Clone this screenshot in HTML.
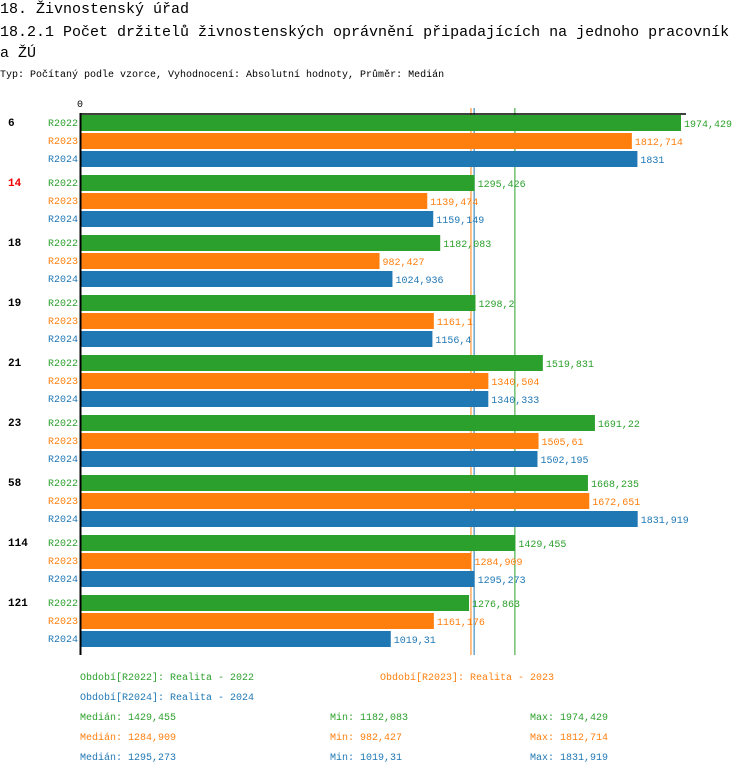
<!DOCTYPE html>
<html><head><meta charset="utf-8"><style>
body{margin:0;background:#fff;width:750px;height:774px;overflow:hidden;font-family:"Liberation Mono",monospace;}
svg{position:absolute;left:0;top:0}
text{font-family:"Liberation Mono",monospace}
</style></head><body>
<svg id="chart" width="750" height="774">
<text x="0" y="13" font-size="15">18. Živnostenský úřad</text>
<text x="0" y="36" font-size="15">18.2.1 Počet držitelů živnostenských oprávnění připadajících na jednoho pracovník</text>
<text x="0" y="57" font-size="15">a ŽÚ</text>
<text x="0" y="77" font-size="10">Typ: Počítaný podle vzorce, Vyhodnocení: Absolutní hodnoty, Průměr: Medián</text>
<text x="80" y="107" font-size="10" text-anchor="middle">0</text>
</svg>
<script>
const categories=['6','14','18','19','21','23','58','114','121'];
const seriesNames=['R2022','R2023','R2024'];
const r2022=[1974.429,1295.426,1182.083,1298.2,1519.831,1691.22,1668.235,1429.455,1276.863];
const r2023=[1812.714,1139.474,982.427,1161.1,1340.504,1505.61,1672.651,1284.909,1161.176];
const r2024=[1831,1159.149,1024.936,1156.4,1340.333,1502.195,1831.919,1295.273,1019.31];
const labels2022=['1974,429','1295,426','1182,083','1298,2','1519,831','1691,22','1668,235','1429,455','1276,863'];
const labels2023=['1812,714','1139,474','982,427','1161,1','1340,504','1505,61','1672,651','1284,909','1161,176'];
const labels2024=['1831','1159,149','1024,936','1156,4','1340,333','1502,195','1831,919','1295,273','1019,31'];
const medians=[1429.455,1284.909,1295.273];
const medianLabels=['1429,455','1284,909','1295,273'];
const minLabels=['1182,083','982,427','1019,31'];
const maxLabels=['1974,429','1812,714','1831,919'];
const colors=['#2ca02c','#ff7f0e','#1f77b4'];
const svg=document.getElementById('chart');
const NS='http://www.w3.org/2000/svg';
const x0=81,maxVal=1974.429,W=600;
const xs=v=>x0+v/maxVal*W;
const groupY=i=>115+i*60;
function mk(tag,attrs){const e=document.createElementNS(NS,tag);for(const k in attrs)e.setAttribute(k,attrs[k]);svg.appendChild(e);return e;}
medians.forEach((m,j)=>{
  const ln=mk('line',{x1:xs(m)-0.5,x2:xs(m)-0.5,y1:108,y2:655,stroke:colors[j],'stroke-width':1});
  
  
});
const series=[r2022,r2023,r2024],slabels=[labels2022,labels2023,labels2024];
categories.forEach((c,i)=>{
  const gy=groupY(i);
  const t=mk('text',{x:8,y:gy+11,'font-size':11,'font-weight':'bold',fill:c==='14'?'#e00':'#000'});
  t.textContent=c;
  
  
  series.forEach((s,j)=>{
    const y=gy+j*18;
    const l=mk('text',{x:78,y:y+11,'font-size':10,'text-anchor':'end',fill:colors[j]});
    l.textContent=seriesNames[j];
    
    
    const r=mk('rect',{x:x0,y:y,width:xs(s[i])-x0,height:16,fill:colors[j]});
    
    
    const v=mk('text',{x:xs(s[i])+3,y:y+12,'font-size':10,fill:colors[j]});
    v.textContent=slabels[j][i];
    
    
  });
});
const ax=mk('line',{x1:80.5,x2:80.5,y1:113,y2:655,stroke:'#000','stroke-width':2});


const tx=mk('line',{x1:80,x2:686,y1:114,y2:114,stroke:'#000','stroke-width':1.5});


function txt(x,y,s,col,name){const e=mk('text',{x:x,y:y,'font-size':10,fill:col});e.textContent=s;}
txt(80,680,'Období[R2022]: Realita - 2022',colors[0],'legend-r2022');
txt(380,680,'Období[R2023]: Realita - 2023',colors[1],'legend-r2023');
txt(80,700,'Období[R2024]: Realita - 2024',colors[2],'legend-r2024');
for(let j=0;j<3;j++){
  const y=720+j*20;
  txt(80,y,'Medián: '+medianLabels[j],colors[j],'stat-median');
  txt(330,y,'Min: '+minLabels[j],colors[j],'stat-min');
  txt(530,y,'Max: '+maxLabels[j],colors[j],'stat-max');
}
</script>
</body></html>
